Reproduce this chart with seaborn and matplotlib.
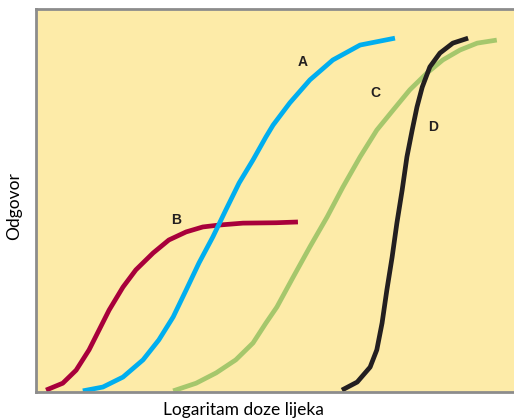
import pandas as pd
import matplotlib
matplotlib.use("Agg")
import matplotlib.pyplot as plt
import seaborn as sns

# -----------------------------
# Data (x = log dose 0-100, y = response 0-100)
# -----------------------------
b_x = [2.1, 5.6, 8.4, 11.1, 13.2, 15.3, 18.2, 20.9, 24.5, 27.8, 31.4, 34.9, 38.3, 43.3, 50.2, 54.8]
b_y = [0.5, 2.3, 5.7, 11.0, 16.2, 21.4, 27.4, 31.9, 36.3, 39.7, 41.8, 43.1, 43.6, 44.1, 44.2, 44.4]

a_x = [9.8, 14.0, 18.2, 22.4, 25.7, 28.7, 31.4, 34.1, 37.0, 39.7, 42.5, 45.4, 48.1,
       49.6, 53.1, 57.3, 62.1, 67.8, 75.1]
a_y = [0.3, 1.3, 3.9, 8.4, 13.6, 19.6, 26.6, 33.7, 40.5, 47.5, 54.6, 60.6, 66.6,
       69.7, 75.5, 81.5, 86.7, 90.6, 92.4]

c_x = [28.7, 33.5, 37.7, 41.8, 45.4, 48.1, 50.4, 53.8, 57.3, 60.9, 64.2, 67.8, 71.3,
       74.7, 78.2, 81.8, 85.1, 88.7, 92.3, 96.4]
c_y = [0.3, 2.3, 5.0, 8.4, 12.8, 18.0, 22.2, 30.0, 37.9, 45.7, 53.5, 61.4, 68.4,
       73.6, 78.9, 83.3, 86.7, 89.3, 91.1, 91.9]

d_x = [64.0, 67.2, 69.9, 71.3, 72.4, 73.4, 74.5, 75.5, 76.6, 77.6, 78.7, 79.7, 80.8,
       82.4, 84.5, 87.2, 90.4]
d_y = [0.5, 2.6, 6.5, 11.0, 18.0, 26.6, 35.2, 44.1, 52.7, 61.4, 68.4, 74.4, 79.6,
       84.9, 88.5, 91.1, 92.4]

curve_names = ["B", "A", "C", "D"]
curve_colors = ["#A8003B", "#00AEEF", "#A5C76C", "#231F20"]
label_pos = {"A": (55.7, 86.2), "B": (29.3, 44.9), "C": (70.9, 78.1), "D": (83.1, 69.2)}

curves = {"B": (b_x, b_y), "A": (a_x, a_y), "C": (c_x, c_y), "D": (d_x, d_y)}

sns.set_style("white")
plt.rcParams["font.family"] = ["Lato", "DejaVu Sans"]

fig = plt.figure(figsize=(5.14, 4.19), dpi=100)
ax = fig.add_axes([0.070, 0.0644, 0.930, 0.914])
ax.set_facecolor("#FDEBA8")

for name, col in zip(curve_names, curve_colors):
    xs, ys = curves[name]
    df = pd.DataFrame({"x": xs, "y": ys})
    sns.lineplot(data=df, x="x", y="y", ax=ax, color=col, linewidth=3.4,
                 estimator=None, sort=False, solid_capstyle="butt",
                 solid_joinstyle="round")

for name, (lx, ly) in label_pos.items():
    ax.text(lx, ly, name, ha="center", va="center", fontsize=10,
            fontweight="bold", color="#231F20", family=["Liberation Sans", "DejaVu Sans"])

ax.set_xlim(0, 100)
ax.set_ylim(0, 100)
ax.set_xticks([])
ax.set_yticks([])

for side in ["left", "bottom", "top"]:
    ax.spines[side].set_color("#8C8C8C")
    ax.spines[side].set_linewidth(2)
ax.spines["right"].set_visible(False)

ax.set_xlabel("Logaritam doze lijeka", fontsize=12.5, color="black")
ax.xaxis.set_label_coords(0.435, -0.025)
ax.set_ylabel("Odgovor", fontsize=12.5, color="black")
ax.yaxis.set_label_coords(-0.028, 0.486)

plt.savefig("out.png", dpi=100)
plt.close()
